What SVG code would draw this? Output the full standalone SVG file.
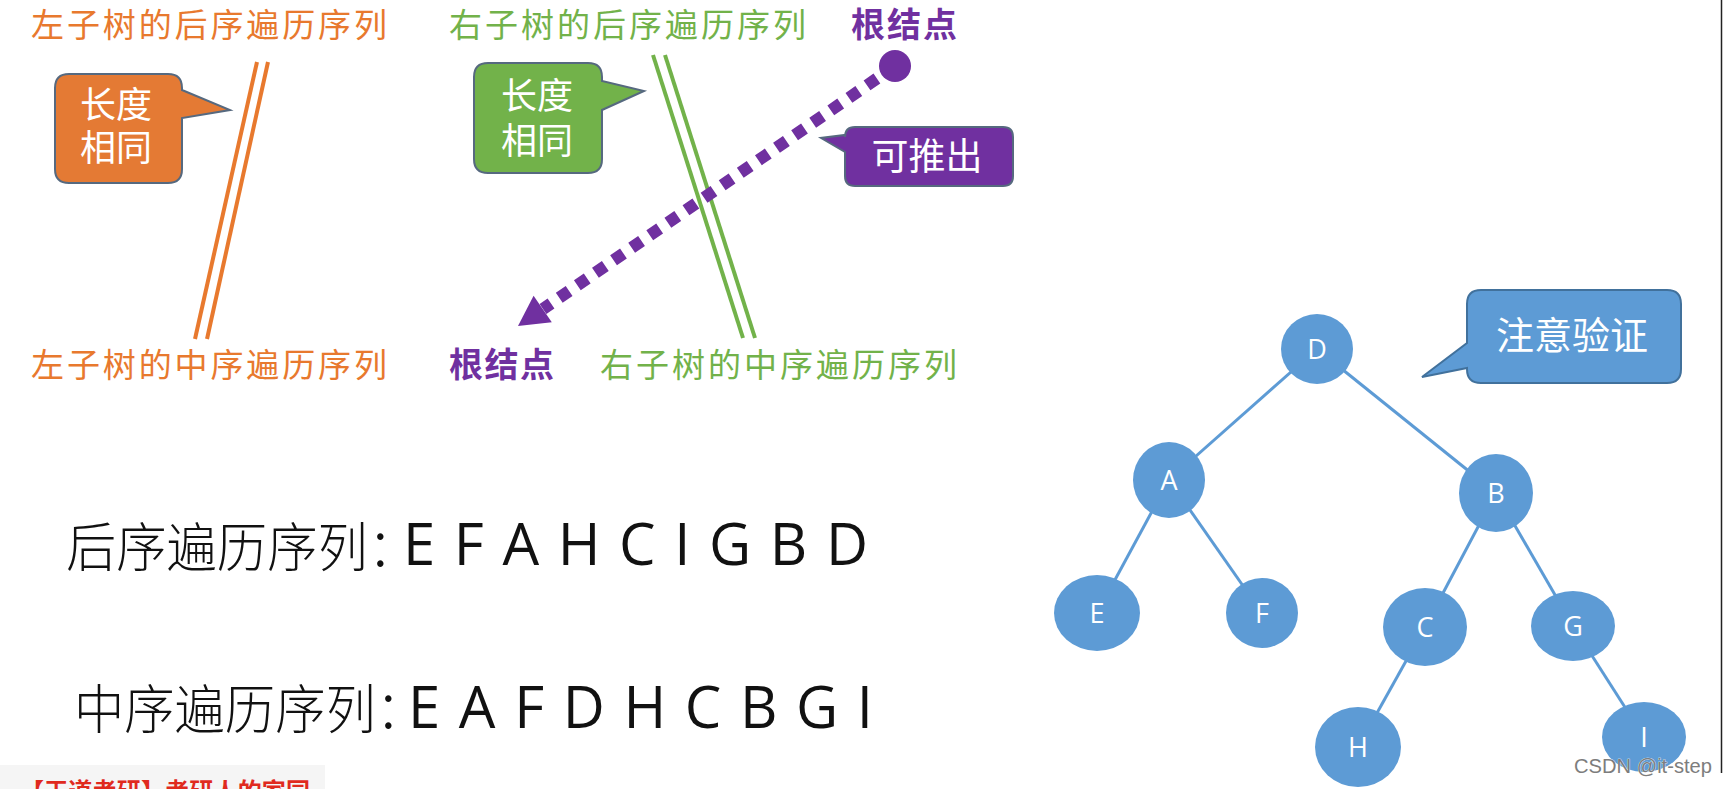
<svg xmlns="http://www.w3.org/2000/svg" width="1727" height="789" viewBox="0 0 1727 789">
<style>
.cjk{font-family:"Noto Sans CJK SC","Noto Sans",sans-serif;}
.orange{fill:#E8792E;}
.green{fill:#72B24A;}
.purple{fill:#7030A0;}
.bubtext{fill:#ffffff;font-family:"Noto Sans CJK SC",sans-serif;text-anchor:middle;}
.seqcn{font-family:"Noto Sans CJK SC",sans-serif;font-weight:300;fill:#111;}
.seq{font-family:"Open Sans","DejaVu Sans",sans-serif;fill:#111;}
.node ellipse{fill:#5D9BD5;}
.node text{fill:#ffffff;font-family:"Open Sans",sans-serif;font-size:27px;text-anchor:middle;}
.edge{stroke:#5D9BD5;stroke-width:3;}
</style>
<rect width="1727" height="789" fill="#ffffff"/>

<!-- titles -->
<g id="labels-top">
<text class="cjk orange" x="31" y="37" font-size="33" textLength="356" lengthAdjust="spacing">左子树的后序遍历序列</text>
<text class="cjk green" x="449" y="37" font-size="33" textLength="357" lengthAdjust="spacing">右子树的后序遍历序列</text>
<text class="cjk purple" x="851" y="37" font-size="34" font-weight="bold" textLength="106" lengthAdjust="spacing">根结点</text>
</g>
<g id="labels-bottom">
<text class="cjk orange" x="31" y="377" font-size="33" textLength="356" lengthAdjust="spacing">左子树的中序遍历序列</text>
<text class="cjk purple" x="449" y="377" font-size="34" font-weight="bold" textLength="105" lengthAdjust="spacing">根结点</text>
<text class="cjk green" x="600" y="377" font-size="33" textLength="357" lengthAdjust="spacing">右子树的中序遍历序列</text>
</g>

<!-- callouts -->
<g id="callout-orange">
<path d="M69 74 H168 Q182 74 182 88 V90 L230 110 L182 118 V169 Q182 183 168 183 H69 Q55 183 55 169 V88 Q55 74 69 74 Z" fill="#E47A34" stroke="#56697F" stroke-width="2"/>
<text class="bubtext" font-size="36"><tspan x="116" y="118">长度</tspan><tspan x="116" y="161">相同</tspan></text>
</g>
<g id="callout-green">
<path d="M488 63 H588 Q602 63 602 77 V81 L644 91 L602 110 V159 Q602 173 588 173 H488 Q474 173 474 159 V77 Q474 63 488 63 Z" fill="#72B24A" stroke="#56697F" stroke-width="2"/>
<text class="bubtext" font-size="36"><tspan x="537" y="109">长度</tspan><tspan x="537" y="154">相同</tspan></text>
</g>
<g id="callout-purple">
<path d="M855 127 H1003 Q1013 127 1013 137 V176 Q1013 186 1003 186 H855 Q845 186 845 176 V152 L821 138 L845 135 V137 Q845 127 855 127 Z" fill="#7030A0" stroke="#56697F" stroke-width="2"/>
<text class="bubtext" x="927" y="170" font-size="37">可推出</text>
</g>
<g id="callout-blue">
<path d="M1481 290 H1667 Q1681 290 1681 304 V369 Q1681 383 1667 383 H1481 Q1467 383 1467 369 V368 L1422 377 L1467 343 V304 Q1467 290 1481 290 Z" fill="#5D9BD5" stroke="#41719C" stroke-width="2"/>
<text class="bubtext" x="1572" y="349" font-size="38">注意验证</text>
</g>

<!-- connectors -->
<g id="connectors">
<line x1="257" y1="62" x2="195" y2="339" stroke="#E8792E" stroke-width="4"/>
<line x1="268" y1="62" x2="207" y2="339" stroke="#E8792E" stroke-width="4"/>
<line x1="653" y1="55" x2="743" y2="338" stroke="#72B24A" stroke-width="4"/>
<line x1="665" y1="55" x2="755" y2="338" stroke="#72B24A" stroke-width="4"/>
<line x1="895" y1="66" x2="543" y2="309" stroke="#7030A0" stroke-width="12" stroke-dasharray="12 10"/>
<polygon points="518,326 533.6,295.8 551.8,322.2" fill="#7030A0"/>
<line class="edge" x1="1317" y1="349" x2="1169" y2="480"/>
<line class="edge" x1="1317" y1="349" x2="1496" y2="493"/>
<line class="edge" x1="1169" y1="480" x2="1097" y2="613"/>
<line class="edge" x1="1169" y1="480" x2="1262" y2="613"/>
<line class="edge" x1="1496" y1="493" x2="1425" y2="627"/>
<line class="edge" x1="1496" y1="493" x2="1573" y2="626"/>
<line class="edge" x1="1425" y1="627" x2="1358" y2="747"/>
<line class="edge" x1="1573" y1="626" x2="1644" y2="737"/>
</g>
<circle id="root-dot" cx="895" cy="66" r="16" fill="#7030A0"/>

<!-- sequences -->
<g id="sequences">
<text class="seqcn" x="66" y="567" font-size="53" textLength="352" lengthAdjust="spacingAndGlyphs">后序遍历序列：</text>
<text class="seq" x="403" y="565" font-size="58" textLength="465" lengthAdjust="spacing">E F A H C I G B D</text>
<text class="seqcn" x="74" y="729" font-size="53" textLength="352" lengthAdjust="spacingAndGlyphs">中序遍历序列：</text>
<text class="seq" x="408" y="728" font-size="58" textLength="465" lengthAdjust="spacing">E A F D H C B G I</text>
</g>

<!-- tree nodes -->
<g id="node-D" class="node"><ellipse cx="1317" cy="349" rx="36" ry="35"/><text x="1317" y="359">D</text></g>
<g id="node-A" class="node"><ellipse cx="1169" cy="480" rx="36" ry="38"/><text x="1169" y="490">A</text></g>
<g id="node-B" class="node"><ellipse cx="1496" cy="493" rx="37" ry="39"/><text x="1496" y="503">B</text></g>
<g id="node-E" class="node"><ellipse cx="1097" cy="613" rx="43" ry="38"/><text x="1097" y="623">E</text></g>
<g id="node-F" class="node"><ellipse cx="1262" cy="613" rx="36" ry="35"/><text x="1262" y="623">F</text></g>
<g id="node-C" class="node"><ellipse cx="1425" cy="627" rx="42" ry="39"/><text x="1425" y="637">C</text></g>
<g id="node-G" class="node"><ellipse cx="1573" cy="626" rx="42" ry="35"/><text x="1573" y="636">G</text></g>
<g id="node-H" class="node"><ellipse cx="1358" cy="747" rx="43" ry="40"/><text x="1358" y="757">H</text></g>
<g id="node-I" class="node"><ellipse cx="1644" cy="737" rx="42" ry="35"/><text x="1644" y="747">I</text></g>

<!-- watermarks -->
<g id="watermarks">
<rect x="0" y="765" width="325" height="24" fill="#f5f5f5"/>
<text x="20" y="800" font-family="Noto Sans CJK SC,sans-serif" font-weight="bold" font-size="24" fill="#E02A1E" textLength="290" lengthAdjust="spacing">【王道考研】考研人的家园</text>
<text x="1574" y="773" font-family="Liberation Sans,sans-serif" font-size="20" fill="#7d7d7d" stroke="#ffffff" stroke-width="0.6" paint-order="stroke" textLength="138" lengthAdjust="spacingAndGlyphs">CSDN @it-step</text>
<line x1="1721.5" y1="0" x2="1721.5" y2="773" stroke="#222" stroke-width="1.5"/>
</g>
</svg>
